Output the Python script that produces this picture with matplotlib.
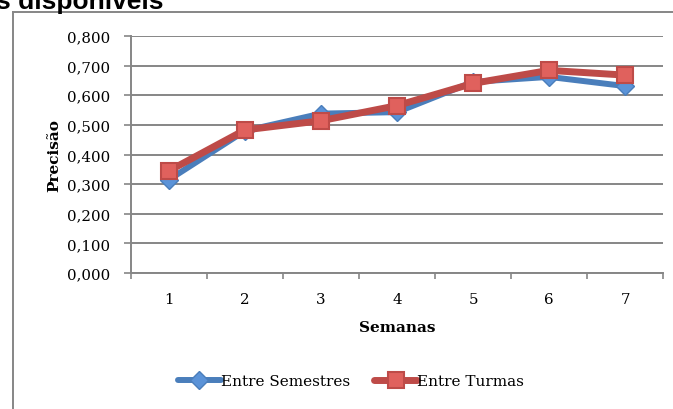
import matplotlib.pyplot as plt
from matplotlib.lines import Line2D
from matplotlib.patches import Rectangle
from matplotlib.ticker import FixedLocator, NullFormatter

# dados de precisão por semana
semanas = [1, 2, 3, 4, 5, 6, 7]
entre_semestres = [0.315, 0.480, 0.538, 0.543, 0.645, 0.662, 0.631]
entre_turmas = [0.345, 0.483, 0.514, 0.565, 0.640, 0.684, 0.668]
yticks = [0.0, 0.1, 0.2, 0.3, 0.4, 0.5, 0.6, 0.7, 0.8]
ytick_labels = ['0,000', '0,100', '0,200', '0,300', '0,400', '0,500', '0,600', '0,700', '0,800']

azul = '#4a7ebb'
azul_claro = '#5b93d8'
vermelho = '#be4b48'
vermelho_claro = '#e0615d'
cinza = '#868686'

fig = plt.figure(figsize=(6.73, 4.10), dpi=100)
W, H = 673, 410

# título cortado no topo; a área do gráfico esconde a parte de baixo
fig.text(-4 / W, 1 - 8.5 / H, 's disponíveis', fontsize=19, fontweight='bold',
         family='Liberation Sans', ha='left', va='baseline')
fig.add_artist(Rectangle((0, 0), 1, 1 - 8.5 / H, transform=fig.transFigure,
                         facecolor='white', edgecolor='none', zorder=2))

# moldura do gráfico (só aparecem a borda esquerda e a de cima)
fig.add_artist(Line2D([13 / W, 13 / W], [0, 1 - 13 / H], color=cinza, lw=1.4, zorder=3))
fig.add_artist(Line2D([13 / W, 1], [1 - 13 / H, 1 - 13 / H], color=cinza, lw=1.4, zorder=3))

ax = fig.add_axes([131 / W, 1 - 274 / H, 532 / W, 237 / H], zorder=5)
ax.patch.set_alpha(0)

ax.plot(semanas, entre_semestres, color=azul, lw=4.3, marker='D', markersize=9,
        markerfacecolor=azul_claro, markeredgecolor=azul, markeredgewidth=1,
        solid_capstyle='round', zorder=3, label='Entre Semestres')
ax.plot(semanas, entre_turmas, color=vermelho, lw=5, marker='s', markersize=11,
        markerfacecolor=vermelho_claro, markeredgecolor=vermelho, markeredgewidth=1.5,
        solid_capstyle='round', zorder=4, label='Entre Turmas')

ax.set_xlim(0.5, 7.5)
ax.set_ylim(0, 0.8)

serif = 'DejaVu Serif'
ax.set_yticks(yticks)
ax.set_yticklabels(ytick_labels, family=serif, fontsize=10.8)
ax.yaxis.grid(True, color=cinza, lw=1.4)
ax.set_axisbelow(True)

# marcas do eixo x entre as categorias, rótulos no centro
ax.xaxis.set_major_locator(FixedLocator([s - 0.5 for s in semanas] + [7.5]))
ax.xaxis.set_major_formatter(NullFormatter())
ax.xaxis.set_minor_locator(FixedLocator(semanas))
ax.set_xticklabels([str(s) for s in semanas], minor=True, family=serif, fontsize=10.8)
ax.tick_params(axis='x', which='major', length=4, width=1.2, color=cinza, direction='out')
ax.tick_params(axis='x', which='minor', length=0, pad=14)
ax.tick_params(axis='y', length=5, width=1.2, color=cinza, pad=10)

for lado in ['top', 'right']:
    ax.spines[lado].set_visible(False)
for lado in ['left', 'bottom']:
    ax.spines[lado].set_color(cinza)
    ax.spines[lado].set_linewidth(1.4)

ax.set_xlabel('Semanas', family=serif, fontweight='bold', fontsize=11, labelpad=10)
ax.set_ylabel('Precisão', family=serif, fontweight='bold', fontsize=11, labelpad=4)

leg = fig.legend(loc='center', bbox_to_anchor=(351 / W, 1 - 382 / H), ncol=2,
                 frameon=False, prop={'family': serif, 'size': 11},
                 handlelength=2.8, handletextpad=0.0, columnspacing=1.6)
leg.set_zorder(6)

fig.savefig('out.png', dpi=100)
